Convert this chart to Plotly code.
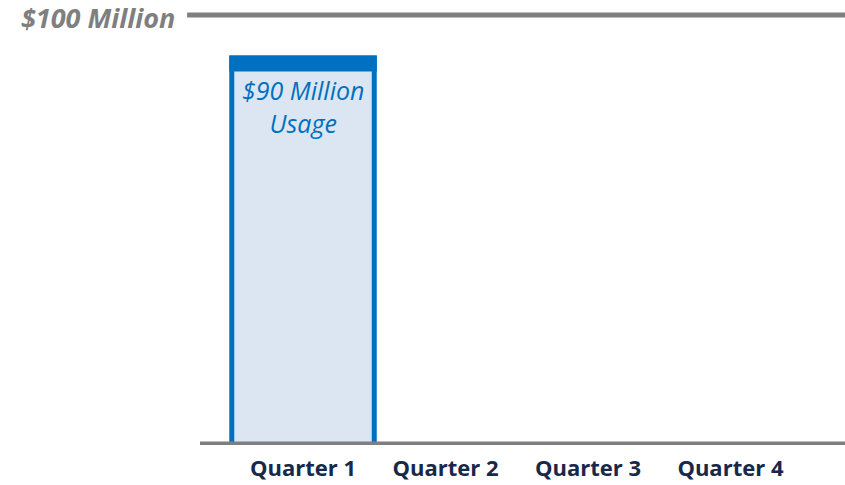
import plotly.graph_objects as go

categories = ["Quarter 1", "Quarter 2", "Quarter 3", "Quarter 4"]
usage_values = [90, None, None, None]
usage_labels = ["$90 Million<br>Usage", "", "", ""]
limit_value = 100
limit_label = "$100 Million"

x_pos = list(range(len(categories)))
band = 2.6  # thickness of the dark top band in value units (style)

BLUE = "#0070C0"
FILL = "#DCE6F2"
GREY = "#7F7F7F"
NAVY = "#17294A"

fig = go.Figure()
fig.add_trace(go.Bar(
    x=x_pos, y=usage_values, width=1.0,
    marker=dict(color=FILL, line=dict(color=BLUE, width=5)),
    hoverinfo="skip", showlegend=False,
))
fig.add_trace(go.Bar(
    x=x_pos,
    y=[band if v is not None else None for v in usage_values],
    base=[v - band if v is not None else None for v in usage_values],
    width=1.0,
    marker=dict(color=BLUE, line=dict(color=BLUE, width=5)),
    hoverinfo="skip", showlegend=False,
))

for xp, v, lab in zip(x_pos, usage_values, usage_labels):
    if v is not None and lab:
        fig.add_annotation(
            x=xp, y=v - band, xref="x", yref="y", text=lab,
            showarrow=False, yanchor="top", yshift=-2,
            font=dict(family="Open Sans", size=25, color=BLUE, style="italic"),
        )

# $100 Million line
fig.add_shape(type="line", xref="paper", yref="y", x0=-0.02, x1=1,
              y0=limit_value, y1=limit_value, line=dict(color=GREY, width=5))
fig.add_annotation(x=-0.036, y=limit_value, xref="paper", yref="y",
                   text="<b><i>" + limit_label + "</i></b>", showarrow=False,
                   xanchor="right", yanchor="middle", yshift=-3,
                   font=dict(family="Open Sans", size=27, color=GREY))
# baseline
fig.add_shape(type="line", xref="paper", yref="y", x0=0, x1=1,
              y0=0, y1=0, line=dict(color=GREY, width=7))

fig.update_layout(
    width=845, height=485,
    margin=dict(l=200, r=0, t=2, b=40),
    plot_bgcolor="white", paper_bgcolor="white",
    barmode="overlay",
    xaxis=dict(range=[-0.723, 3.804], tickmode="array", tickvals=x_pos,
               ticktext=["<b>" + c + "</b>" for c in categories],
               showgrid=False, zeroline=False, showline=False, ticks="",
               ticklabelstandoff=8,
               tickfont=dict(family="Open Sans", size=22, color=NAVY)),
    yaxis=dict(range=[0, 103], visible=False, showgrid=False, zeroline=False),
)
fig.write_html("out.html")
